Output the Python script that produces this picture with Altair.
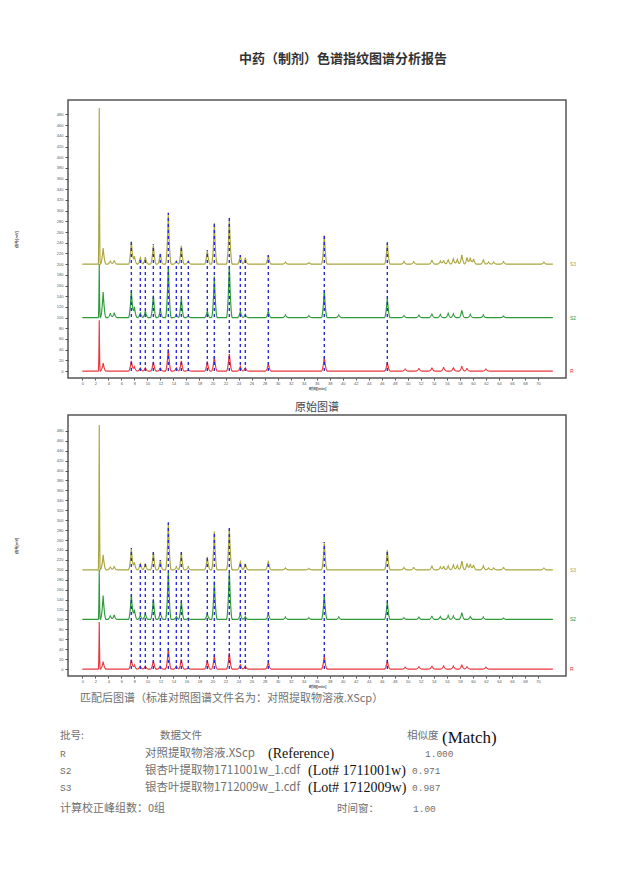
import altair as alt
import numpy as np
import pandas as pd

# ---------------- data ----------------
sample_names = ["R", "S2", "S3"]
sample_offsets = [0, 100, 200]

# matched (common) peaks, retention time in min
peak_rt = [7.53, 8.91, 9.68, 10.91, 11.98, 13.21, 14.44, 15.21, 16.28,
           19.20, 20.28, 22.58, 24.27, 25.04, 28.57, 37.17, 46.85]
r_heights = [20, 6, 6, 18, 6, 43, 6, 20, 2, 18, 28, 34, 9, 6, 14, 27, 17]
s2_heights = [52, 9, 12, 43, 15, 99, 6, 37, 3, 12, 77, 102, 12, 6, 12, 52, 37]
s3_heights = [44, 13, 13, 37, 20, 96, 6, 36, 6, 26, 77, 88, 17, 12, 17, 56, 41]

# other (unmatched) peaks
r_extra_rt = [2.6, 3.2, 8.0, 49.6, 51.7, 53.7, 55.5, 57.0, 58.3, 59.1, 62.0]
r_extra_h = [95, 15, 8, 4, 5, 6, 7, 6, 9, 5, 4]
s2_extra_rt = [2.6, 3.2, 4.3, 4.9, 8.0, 31.2, 34.8, 39.4, 49.4, 51.7, 53.7,
               55.0, 56.2, 57.0, 58.3, 59.6, 61.6, 64.7]
s2_extra_h = [100, 48, 8, 9, 20, 5, 4, 5, 4, 5, 7, 6, 8, 7, 14, 6, 5, 3]
s3_extra_rt = [2.6, 3.2, 4.3, 4.9, 8.0, 31.2, 34.8, 49.4, 50.9, 53.7, 55.0,
               55.5, 56.2, 57.0, 57.6, 58.3, 59.1, 59.6, 60.1, 61.6, 62.4,
               63.2, 64.7, 70.9]
s3_extra_h = [292, 30, 6, 7, 15, 4, 3, 5, 5, 8, 6, 7, 8, 10, 9, 18, 13, 12,
              10, 8, 4, 4, 5, 4]

run_end = 72.3  # min, end of recorded trace
x_ticks = list(range(0, 71, 2))
y_ticks = list(range(0, 481, 20))

title_text = "中药（制剂）色谱指纹图谱分析报告"
raw_caption = "原始图谱"
matched_caption = "匹配后图谱（标准对照图谱文件名为：对照提取物溶液.XScp）"
hdr_batch, hdr_file, hdr_sim, hdr_match = "批号:", "数据文件", "相似度", "(Match)"
batch_ids = ["R", "S2", "S3"]
data_files = ["对照提取物溶液.XScp", "银杏叶提取物1711001w_1.cdf", "银杏叶提取物1712009w_1.cdf"]
notes = ["(Reference)", "(Lot# 1711001w)", "(Lot# 1712009w)"]
similarity = ["1.000", "0.971", "0.987"]
footer_left = "计算校正峰组数：0组"
footer_mid = "时间窗："
footer_val = "1.00"

# ---------------- build traces from peak lists ----------------
t = np.round(np.arange(0, run_end, 0.04), 3)
peaks = {
    "R": (r_heights, r_extra_rt, r_extra_h),
    "S2": (s2_heights, s2_extra_rt, s2_extra_h),
    "S3": (s3_heights, s3_extra_rt, s3_extra_h),
}
rows = []
for name, off in zip(sample_names, sample_offsets):
    hs, ert, eh = peaks[name]
    y = np.full(t.shape, float(off))
    for r, h in list(zip(peak_rt, hs)) + list(zip(ert, eh)):
        w = 0.14 if r < 3 else 0.45
        y += h * np.clip(1 - np.abs(t - r) / w, 0, None) ** 2
    rows.append(pd.DataFrame({"t": t, "y": y, "sample": name}))
traces = pd.concat(rows, ignore_index=True)

rules = pd.DataFrame({"t": peak_rt, "y0": [0] * len(peak_rt),
                      "y1": [200 + h for h in s3_heights]})
labels = pd.DataFrame({"sample": sample_names, "y": sample_offsets})

colors = ["#e8383d", "#2e9a3a", "#a9a53c"]
cscale = alt.Scale(domain=sample_names, range=colors)


def panel(height, ydom, title=None):
    xs = alt.Scale(domain=[-2.2, 74.3], nice=False, zero=False)
    ys = alt.Scale(domain=ydom, nice=False, zero=False)
    xax = alt.Axis(values=x_ticks, labelFontSize=4, labelColor="#555",
                   tickSize=2, tickColor="#555", domain=False, grid=False,
                   labelOverlap=False, labelFlush=False, labelSeparation=0,
                   title="时间[min]", titleFontSize=4, titleColor="#555",
                   titlePadding=1, labelPadding=1)
    yax = alt.Axis(values=y_ticks, labelFontSize=4, labelColor="#555",
                   tickSize=3, tickColor="#555", domain=False, grid=False,
                   labelOverlap=False, labelFlush=False, labelSeparation=0,
                   title="信号[mV]", titleFontSize=4, titleColor="#555",
                   titlePadding=3, minExtent=47)
    lines = alt.Chart(traces).mark_line(strokeWidth=1.15, clip=True).encode(
        x=alt.X("t:Q", scale=xs, axis=xax),
        y=alt.Y("y:Q", scale=ys, axis=yax),
        color=alt.Color("sample:N", scale=cscale, legend=None),
        detail="sample:N",
    )
    dashes = alt.Chart(rules).mark_rule(color="#2a2ad6", strokeDash=[3, 3],
                                        strokeWidth=1.4).encode(
        x=alt.X("t:Q", scale=xs, axis=xax),
        y=alt.Y("y0:Q", scale=ys, axis=yax), y2="y1:Q")
    labs = alt.Chart(labels).mark_text(align="left", fontSize=5, baseline="middle").encode(
        x=alt.value(502), y=alt.Y("y:Q", scale=ys, axis=yax),
        color=alt.Color("sample:N", scale=cscale, legend=None),
        text="sample:N")
    ch = alt.layer(lines, dashes, labs).properties(
        width=498, height=height,
        view=alt.ViewBackground(stroke="#555", strokeWidth=1.5))
    if title is not None:
        ch = ch.properties(title=title)
    return ch


p1 = panel(278, [-13, 507], alt.TitleParams(
    title_text, fontSize=13, fontWeight="bold", color="#333",
    font="Noto Sans CJK SC", anchor="middle", dx=26, offset=34))
p2 = panel(261, [-14, 512], alt.TitleParams(
    raw_caption, fontSize=11, fontWeight="normal", color="#444",
    font="Noto Sans CJK SC", anchor="middle", offset=2))

# ---------------- text block ----------------
ROW_Y = [753, 770, 787]
cjk_df = pd.DataFrame({
    "x": [80, 60, 160, 407] + [145] * 3 + [60, 337],
    "y": [698, 735, 735, 735] + ROW_Y + [808, 808],
    "s": [matched_caption, hdr_batch, hdr_file, hdr_sim] + data_files + [footer_left, footer_mid],
    "fs": [11, 10.5, 10.5, 10.5] + [11.5] * 3 + [11, 10.5],
})
mono_df = pd.DataFrame({
    "x": [60, 60, 60, 425, 412, 412, 413],
    "y": ROW_Y + ROW_Y + [808],
    "s": batch_ids + similarity + [footer_val],
    "fs": [9.5] * 7,
})
serif_df = pd.DataFrame({
    "x": [442, 268, 308, 308],
    "y": [737] + ROW_Y,
    "s": [hdr_match] + notes,
    "fs": [17, 14, 14, 14],
})
tx = alt.Scale(domain=[68, 588], nice=False, zero=False)
ty = alt.Scale(domain=[688, 828], nice=False, zero=False, reverse=True)


def txt(df, font, color):
    return alt.Chart(df).mark_text(align="left", baseline="middle", font=font,
                                   color=color).encode(
        x=alt.X("x:Q", scale=tx, axis=None),
        y=alt.Y("y:Q", scale=ty, axis=None),
        text="s:N",
        size=alt.Size("fs:Q", scale=None, legend=None))


text_block = alt.layer(
    txt(cjk_df, "Noto Sans CJK SC", "#707070"),
    txt(mono_df, "Liberation Mono", "#707070"),
    txt(serif_df, "Liberation Serif", "#111"),
).properties(width=520, height=140)

chart = alt.vconcat(alt.vconcat(p1, p2, spacing=10), text_block, spacing=0).properties(
    padding={"left": 5, "top": 44, "right": 5, "bottom": 5},
    background="white",
).configure_view(strokeWidth=0).configure_axis(labelOverlap=False)

chart.save("out.html", embed_options={"renderer": "svg", "actions": False})
